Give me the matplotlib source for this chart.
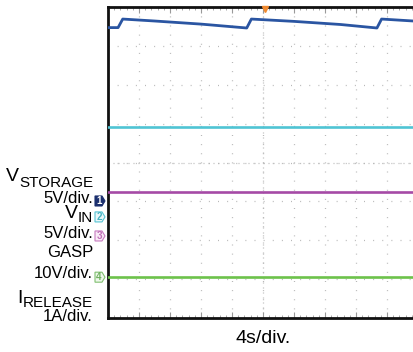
import matplotlib
matplotlib.use('Agg')
import matplotlib.pyplot as plt
from matplotlib.patches import Polygon

plt.rcParams['font.family'] = ['Liberation Sans', 'DejaVu Sans']

# scope traces, x in seconds (4 s/div), y in screen divisions (0..8)
t_storage = [0, 1.3, 1.9, 6.0, 12.0, 17.9, 18.5, 24.0, 30.0, 34.7, 35.3, 41.0]
v_storage = [7.47, 7.47, 7.69, 7.64, 7.56, 7.46, 7.69, 7.63, 7.55, 7.46, 7.69, 7.62]
t_flat = [0, 41]
v_in = [4.91, 4.91]
gasp = [3.24, 3.24]
i_release = [1.05, 1.05]

# channel ground markers (division level)
markers = ['1', '2', '3', '4']
marker_lvl = [3.01, 2.6, 2.11, 1.05]
marker_fc = ['#1b2f6e', '#eaf7f9', '#f8eaf6', '#edf7ea']
marker_ec = ['#1b2f6e', '#56c3d3', '#c77bc0', '#80c070']
marker_tc = ['white', '#46b3c3', '#c070b8', '#70b060']

W, H = 414, 352
fig = plt.figure(figsize=(W / 100, H / 100), dpi=100)
ax = fig.add_axes([108 / W, 1 - 318 / H, 310 / W, 311 / H])
ax.set_xlim(0, 40)
ax.set_ylim(0, 8)

# grid
gcol = '#b8b8b8'
for k in range(1, 10):
    ax.axvline(4 * k, color=gcol, lw=0.9, ls=(0, (0.8, 6.5)), zorder=1)
for k in range(1, 8):
    ax.axhline(k, color=gcol, lw=0.9, ls=(0, (0.8, 6.5)), zorder=1)
ax.axhline(4, color=gcol, lw=0.9, ls=(0, (0.8, 3.2)), zorder=1)
ax.axvline(20, color=gcol, lw=0.9, ls=(0, (0.8, 3.2)), zorder=1)

ax.set_xticks([4 * k for k in range(11)])
ax.set_xticks([0.8 * k for k in range(51)], minor=True)
ax.set_yticks(range(9))
ax.set_yticks([0.2 * k for k in range(41)], minor=True)
ax.tick_params(which='both', direction='in', top=True, bottom=True, left=False,
               right=False, labelbottom=False, labelleft=False, color='#999999')
ax.tick_params(which='major', length=4, width=0.8)
ax.tick_params(which='minor', length=2.5, width=0.6)
for s in ax.spines.values():
    s.set_linewidth(2)
    s.set_color('#111111')

ax.plot(t_storage, v_storage, color='#2a55a2', lw=2.0, zorder=3)
ax.plot(t_flat, v_in, color='#4fc4d4', lw=1.9, zorder=3)
ax.plot(t_flat, gasp, color='#a54aa6', lw=1.9, zorder=3)
ax.plot(t_flat, i_release, color='#6cc24a', lw=1.9, zorder=3)

# trigger marker
ax.plot([20.2], [7.95], marker='v', color='#f08a30', ms=5, clip_on=False, zorder=4)

# channel markers left of the screen
for lab, lv, fc, ec, tc in zip(markers, marker_lvl, marker_fc, marker_ec, marker_tc):
    y = 318 - lv * 311 / 8
    pts = [(95, y - 5), (102, y - 5), (105, y), (102, y + 5), (95, y + 5)]
    poly = Polygon([(px / W, 1 - py / H) for px, py in pts], closed=True,
                   transform=fig.transFigure, fc=fc, ec=ec, lw=0.8, zorder=5)
    fig.patches.append(poly)
    fig.text(99 / W, 1 - y / H, lab, color=tc, fontsize=7, ha='center',
             va='center', fontweight='bold', zorder=6)

fig.text(263 / W, 1 - 343 / H, '4s/div.', fontsize=14, ha='center', va='baseline')

fig.canvas.draw()
r = fig.canvas.get_renderer()


def sublabel(main, sub, base, sub_base):
    t = fig.text(93 / W, 1 - sub_base / H, sub, fontsize=11, ha='right', va='baseline')
    bb = t.get_window_extent(r)
    fig.text(bb.x0 / W, 1 - base / H, main, fontsize=14, ha='right', va='baseline')


sublabel('V', 'STORAGE', 181, 187)
fig.text(93 / W, 1 - 203 / H, '5V/div.', fontsize=12, ha='right', va='baseline')
sublabel('V', 'IN', 218, 222)
fig.text(93 / W, 1 - 238 / H, '5V/div.', fontsize=12, ha='right', va='baseline')
fig.text(93 / W, 1 - 257 / H, 'GASP', fontsize=12, ha='right', va='baseline')
fig.text(93 / W, 1 - 278 / H, '10V/div.', fontsize=12, ha='right', va='baseline')
sublabel('I', 'RELEASE', 303, 307)
fig.text(93 / W, 1 - 321 / H, '1A/div.', fontsize=12, ha='right', va='baseline')

fig.savefig('out.png', dpi=100)
